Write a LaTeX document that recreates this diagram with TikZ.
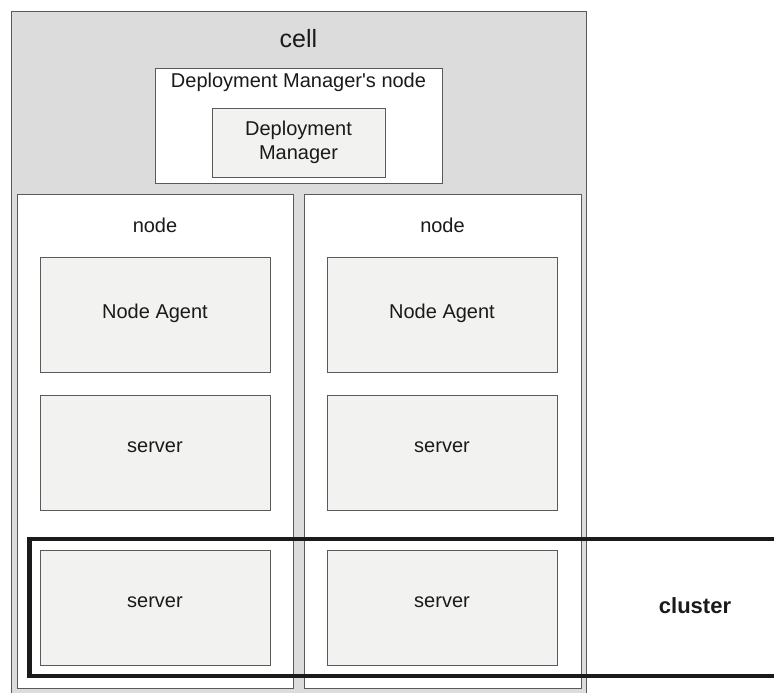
\documentclass[tikz,border=0pt]{standalone}
\usepackage{fontspec}
\setmainfont{Liberation Sans}
\usetikzlibrary{calc}
\definecolor{cellgray}{HTML}{DCDCDC}
\definecolor{compfill}{HTML}{F2F2F1}
\definecolor{edgegray}{HTML}{5A5A5A}
\definecolor{ink}{HTML}{1A1A1A}
\begin{document}
\begin{tikzpicture}[x=1pt,y=-1pt,
  frame/.style={draw=edgegray, line width=0.9pt, inner sep=0pt, outer sep=0pt, anchor=north west},
  cellbox/.style={frame, fill=cellgray},
  hostbox/.style={frame, fill=white},
  compbox/.style={frame, fill=compfill, minimum width=230pt, minimum height=115pt},
  clusterbox/.style={draw=ink, line width=4.5pt, inner sep=0pt, outer sep=0pt, anchor=north west},
  lbl/.style={text=ink, inner sep=0pt, anchor=base, font=\fontsize{20}{24}\selectfont},
  biglbl/.style={lbl, font=\fontsize{25}{30}\selectfont},
  boldlbl/.style={lbl, font=\fontsize{22}{26}\selectfont\bfseries}]
\clip (0,0) rectangle (774,693);

% the cell
\node[cellbox, minimum width=575pt, minimum height=700pt] (cell) at (11,11) {};
\node[biglbl] (celltxt) at ($(cell.north)+(0,37)$) {cell};

% deployment manager's node
\node[hostbox, minimum width=287pt, minimum height=115pt] (dmnode) at (155,68) {};
\node[lbl] (dmnodetxt) at ($(dmnode.north)+(0,20)$) {Deployment Manager\textquotesingle s node};
\node[frame, fill=compfill, minimum width=173pt, minimum height=69pt] (dm) at (212,108) {};
\node[lbl, align=center] (dmtxt) at ($(dm.north)+(0,51)$) {Deployment\\[0pt]Manager};

% the two nodes
\node[hostbox, minimum width=276pt, minimum height=494pt] (nodeL) at (17,194) {};
\node[hostbox, minimum width=277pt, minimum height=494pt] (nodeR) at (304,194) {};
\node[lbl] (nodeLtxt) at ($(nodeL.north)+(0,38)$) {node};
\node[lbl] (nodeRtxt) at ($(nodeR.north)+(0,38)$) {node};

% node agents
\node[compbox] (agentL) at (40,257) {};
\node[compbox] (agentR) at (327,257) {};
\node[lbl] (agentLtxt) at ($(agentL.north)+(0,61)$) {Node Agent};
\node[lbl] (agentRtxt) at ($(agentR.north)+(0,61)$) {Node Agent};

% servers
\node[compbox] (srvL1) at (40,395) {};
\node[compbox] (srvR1) at (327,395) {};
\node[compbox] (srvL2) at (40,550) {};
\node[compbox] (srvR2) at (327,550) {};
\node[lbl] (srvL1txt) at ($(srvL1.north)+(0,57)$) {server};
\node[lbl] (srvR1txt) at ($(srvR1.north)+(0,57)$) {server};
\node[lbl] (srvL2txt) at ($(srvL2.north)+(0,57)$) {server};
\node[lbl] (srvR2txt) at ($(srvR2.north)+(0,57)$) {server};

% the cluster
\node[clusterbox, minimum width=770pt, minimum height=137pt] (cluster) at (29.5,539) {};
\node[boldlbl] (clustertxt) at (695,613) {cluster};
\end{tikzpicture}
\end{document}
